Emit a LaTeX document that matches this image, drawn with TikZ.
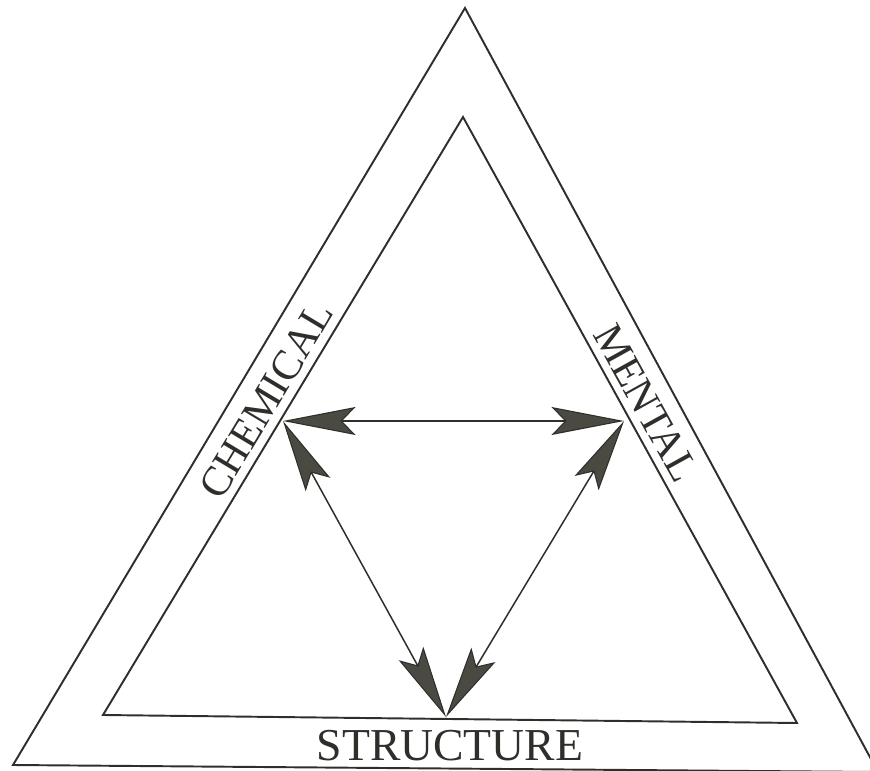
\documentclass[tikz,border=0pt]{standalone}
\usepackage{fontspec}
\setmainfont{Liberation Serif}
\usetikzlibrary{arrows.meta}
\definecolor{ink}{HTML}{2E2E2A}
\definecolor{headfill}{HTML}{4A4A42}
\tikzset{
  headtip/.tip={Stealth[length=1.45cm,width=0.56cm,inset=0.27cm,fill=headfill,color=ink,line width=0.6pt]},
}
\begin{document}
\begin{tikzpicture}[x=0.02cm,y=-0.02cm,
  frame/.style={draw=ink, line width=1.1pt, line join=miter},
  link/.style={draw=ink, line width=0.85pt, headtip-headtip},
  sidelabel/.style={text=ink, font=\fontsize{24}{24}\selectfont, inner sep=0pt},
  baselabel/.style={text=ink, font=\fontsize{26}{26}\selectfont, inner sep=0pt}]
\useasboundingbox (0,0) rectangle (870,771);
\begin{scope}
\clip (0,0) rectangle (870,771);
% outer triangle
\coordinate (O1) at (465,8);
\coordinate (O2) at (13,765);
\coordinate (O3) at (878,772);
\draw[frame] (O1) -- (O2) -- (O3) -- cycle;
% inner triangle
\coordinate (I1) at (463,117);
\coordinate (I2) at (103,715);
\coordinate (I3) at (797,723);
\draw[frame] (I1) -- (I2) -- (I3) -- cycle;
\end{scope}
% vertices of the arrow triangle
\coordinate (A) at (283,421);
\coordinate (B) at (624,421);
\coordinate (C) at (446,717);
\draw[link] (A) -- (B);
\draw[link] (A) -- (C);
\draw[link] (B) -- (C);
% labels
\node[sidelabel, rotate=59] (chem) at (266,400) {CHEMICAL};
\node[sidelabel, rotate=-61] (ment) at (646,403) {MENTAL};
\node[baselabel] (struct) at (450,746) {STRUCTURE};
\end{tikzpicture}
\end{document}
